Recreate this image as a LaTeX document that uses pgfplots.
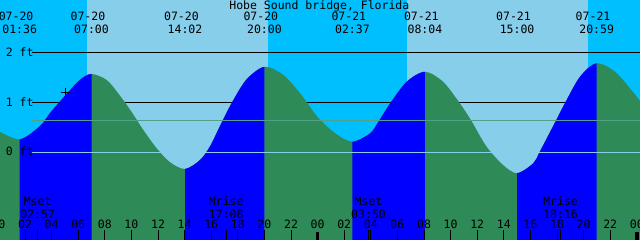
\documentclass[border=0pt]{standalone}
\usepackage{fontspec}
\setmainfont{DejaVu Sans Mono}
\usepackage{pgfplots}
\usepackage{pgfplotstable}
\pgfplotsset{compat=1.18}
\usepgfplotslibrary{fillbetween}
\definecolor{night}{HTML}{00BFFF}
\definecolor{day}{HTML}{87CEEB}
\definecolor{flood}{HTML}{0000FF}
\definecolor{ebb}{HTML}{2E8B57}
\definecolor{msl}{RGB}{80,160,140}
\pgfplotsset{layers/tidelayers/.define layer set={axis background,axis grid,pre main,main,axis ticks,axis lines,axis tick labels,axis descriptions,axis foreground}{}}
\newcommand\tf{\fontsize{11.5bp}{13bp}\selectfont}
\pgfplotstableread{
h ft
0.00 0.43
1.60 0.26
3.13 0.53
3.88 0.79
5.01 1.14
6.14 1.46
7.00 1.575
8.14 1.455
9.14 1.14
10.12 0.77
10.87 0.46
11.90 0.08
12.90 -0.20
14.03 -0.336
15.16 -0.155
15.91 0.12
16.79 0.60
17.64 1.04
18.67 1.47
20.00 1.72
21.40 1.56
22.68 1.19
24.03 0.70
25.44 0.36
26.62 0.213
27.94 0.38
28.54 0.60
29.44 0.98
30.70 1.42
32.07 1.62
33.43 1.42
34.71 0.98
35.59 0.62
36.71 0.11
37.96 -0.26
39.00 -0.42
40.22 -0.22
40.72 0.02
41.85 0.60
42.60 0.99
43.73 1.52
44.98 1.79
46.49 1.59
48.40 0.98
}\tide
\begin{document}
\tf
\begin{tikzpicture}[font=\tf]
\begin{axis}[
  set layers=tidelayers,
  scale only axis, width=640bp, height=240bp,
  xmin=0.12, xmax=48.24, ymin=-1.765, ymax=3.064,
  axis lines=none,
  xtick=\empty, ytick=\empty,
  every node/.append style={inner sep=0pt, font=\tf},
]
% sky: night and day
\addplot[on layer=axis background, draw=none, fill=night] coordinates {(-1,-2) (49,-2) (49,4) (-1,4)};
\addplot[on layer=axis background, draw=none, fill=day] coordinates {(6.66,-2) (20.27,-2) (20.27,4) (6.66,4)};
\addplot[on layer=axis background, draw=none, fill=day] coordinates {(30.72,-2) (44.33,-2) (44.33,4) (30.72,4)};
% black level lines behind the water
\addplot[on layer=axis grid, black, line width=1bp] coordinates {(2.53,1) (48.5,1)};
\addplot[on layer=axis grid, black, line width=1bp] coordinates {(2.53,2) (48.5,2)};
% tide
\addplot[draw=none, smooth, name path=tide] table[x=h,y=ft]{\tide};
\addplot[draw=none, name path=bot] coordinates {(-1,-1.9) (49,-1.9)};
\addplot[fill=ebb, draw=none] fill between[of=tide and bot];
\addplot[fill=flood, draw=none] fill between[of=tide and bot, soft clip={domain=1.60:7.00}];
\addplot[fill=flood, draw=none] fill between[of=tide and bot, soft clip={domain=14.03:20.00}];
\addplot[fill=flood, draw=none] fill between[of=tide and bot, soft clip={domain=26.62:32.07}];
\addplot[fill=flood, draw=none] fill between[of=tide and bot, soft clip={domain=39.00:44.98}];
% datum and mean lines on top
\addplot[day, line width=1bp] coordinates {(2.53,0) (48.5,0)};
\addplot[msl, line width=1bp] coordinates {(2.53,0.64) (48.5,0.64)};
\addplot[only marks, mark=+, mark size=4.5bp, black, line width=1bp] coordinates {(5.01,1.20)};
% hour ticks (every two hours) and moon-event ticks
\addplot[black, line width=1bp, unbounded coords=jump] coordinates {
 (2,-1.8) (2,-1.563) (2,nan)
 (4,-1.8) (4,-1.563) (4,nan)
 (6,-1.8) (6,-1.563) (6,nan)
 (8,-1.8) (8,-1.563) (8,nan)
 (10,-1.8) (10,-1.563) (10,nan)
 (12,-1.8) (12,-1.563) (12,nan)
 (14,-1.8) (14,-1.563) (14,nan)
 (16,-1.8) (16,-1.563) (16,nan)
 (18,-1.8) (18,-1.563) (18,nan)
 (20,-1.8) (20,-1.563) (20,nan)
 (22,-1.8) (22,-1.563) (22,nan)
 (26,-1.8) (26,-1.563) (26,nan)
 (28,-1.8) (28,-1.563) (28,nan)
 (30,-1.8) (30,-1.563) (30,nan)
 (32,-1.8) (32,-1.563) (32,nan)
 (34,-1.8) (34,-1.563) (34,nan)
 (36,-1.8) (36,-1.563) (36,nan)
 (38,-1.8) (38,-1.563) (38,nan)
 (40,-1.8) (40,-1.563) (40,nan)
 (42,-1.8) (42,-1.563) (42,nan)
 (44,-1.8) (44,-1.563) (44,nan)
 (46,-1.8) (46,-1.563) (46,nan)
 (2.95,-1.8) (2.95,-1.563) (2.95,nan)
 (17.13,-1.8) (17.13,-1.563) (17.13,nan)
 (27.83,-1.8) (27.83,-1.563) (27.83,nan)
 (42.27,-1.8) (42.27,-1.563)
};
% midnight ticks
\addplot[black, line width=3.5bp, unbounded coords=jump] coordinates {
 (0,-1.8) (0,-1.60) (0,nan)
 (24,-1.8) (24,-1.60) (24,nan)
 (48,-1.8) (48,-1.60)
};
% title
\node[anchor=base] at (axis cs:24.13,2.877) {Hobe Sound bridge, Florida};
% tide events
\node[anchor=base] at (axis cs:1.33,2.642) {07-20};
\node[anchor=base] at (axis cs:1.60,2.394) {01:36};
\node[anchor=base] at (axis cs:6.73,2.642) {07-20};
\node[anchor=base] at (axis cs:7.00,2.394) {07:00};
\node[anchor=base] at (axis cs:13.76,2.642) {07-20};
\node[anchor=base] at (axis cs:14.03,2.394) {14:02};
\node[anchor=base] at (axis cs:19.73,2.642) {07-20};
\node[anchor=base] at (axis cs:20.00,2.394) {20:00};
\node[anchor=base] at (axis cs:26.35,2.642) {07-21};
\node[anchor=base] at (axis cs:26.62,2.394) {02:37};
\node[anchor=base] at (axis cs:31.80,2.642) {07-21};
\node[anchor=base] at (axis cs:32.07,2.394) {08:04};
\node[anchor=base] at (axis cs:38.73,2.642) {07-21};
\node[anchor=base] at (axis cs:39.00,2.394) {15:00};
\node[anchor=base] at (axis cs:44.71,2.642) {07-21};
\node[anchor=base] at (axis cs:44.98,2.394) {20:59};
% level labels
\node[anchor=base west] at (axis cs:0.25,1.924) {2 ft};
\node[anchor=base west] at (axis cs:0.25,0.918) {1 ft};
\node[anchor=base west] at (axis cs:0.25,-0.068) {0 ft};
% moon events
\node[anchor=base] at (axis cs:2.95,-1.074) {Mset};
\node[anchor=base] at (axis cs:2.95,-1.328) {02:57};
\node[anchor=base] at (axis cs:17.13,-1.074) {Mrise};
\node[anchor=base] at (axis cs:17.13,-1.328) {17:08};
\node[anchor=base] at (axis cs:27.83,-1.074) {Mset};
\node[anchor=base] at (axis cs:27.83,-1.328) {03:50};
\node[anchor=base] at (axis cs:42.27,-1.074) {Mrise};
\node[anchor=base] at (axis cs:42.27,-1.328) {18:16};
% hour labels
\node[anchor=base] at (axis cs:0,-1.543) {00};
\node[anchor=base] at (axis cs:2,-1.543) {02};
\node[anchor=base] at (axis cs:4,-1.543) {04};
\node[anchor=base] at (axis cs:6,-1.543) {06};
\node[anchor=base] at (axis cs:8,-1.543) {08};
\node[anchor=base] at (axis cs:10,-1.543) {10};
\node[anchor=base] at (axis cs:12,-1.543) {12};
\node[anchor=base] at (axis cs:14,-1.543) {14};
\node[anchor=base] at (axis cs:16,-1.543) {16};
\node[anchor=base] at (axis cs:18,-1.543) {18};
\node[anchor=base] at (axis cs:20,-1.543) {20};
\node[anchor=base] at (axis cs:22,-1.543) {22};
\node[anchor=base] at (axis cs:24,-1.543) {00};
\node[anchor=base] at (axis cs:26,-1.543) {02};
\node[anchor=base] at (axis cs:28,-1.543) {04};
\node[anchor=base] at (axis cs:30,-1.543) {06};
\node[anchor=base] at (axis cs:32,-1.543) {08};
\node[anchor=base] at (axis cs:34,-1.543) {10};
\node[anchor=base] at (axis cs:36,-1.543) {12};
\node[anchor=base] at (axis cs:38,-1.543) {14};
\node[anchor=base] at (axis cs:40,-1.543) {16};
\node[anchor=base] at (axis cs:42,-1.543) {18};
\node[anchor=base] at (axis cs:44,-1.543) {20};
\node[anchor=base] at (axis cs:46,-1.543) {22};
\node[anchor=base] at (axis cs:48,-1.543) {00};
\end{axis}
\pgfresetboundingbox
\useasboundingbox (current axis.south west) rectangle (current axis.north east);
\end{tikzpicture}
\end{document}
